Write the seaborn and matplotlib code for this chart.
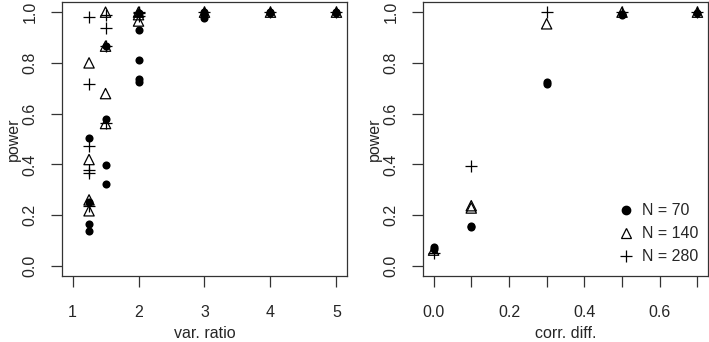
import pandas as pd
import seaborn as sns
import matplotlib.pyplot as plt
from matplotlib.lines import Line2D

# left panel: power against variance ratio
vr_x_70 = [1.25, 1.25, 1.25, 1.25, 1.5, 1.5, 1.5, 1.5, 2, 2, 2, 2, 2, 3, 3, 3, 4, 4, 5, 5]
vr_y_70 = [0.505, 0.25, 0.165, 0.137, 0.866, 0.577, 0.398, 0.322,
           0.995, 0.929, 0.813, 0.738, 0.725, 1.0, 0.99, 0.976, 1.0, 0.995, 1.0, 0.998]
vr_x_140 = [1.25, 1.25, 1.25, 1.25, 1.5, 1.5, 1.5, 1.5, 2, 2, 2, 3, 4, 5]
vr_y_140 = [0.80, 0.419, 0.26, 0.217, 1.0, 0.866, 0.679, 0.561, 1.0, 0.99, 0.965, 1.0, 1.0, 1.0]
vr_x_280 = [1.25, 1.25, 1.25, 1.25, 1.25, 1.25, 1.5, 1.5, 1.5, 1.5, 2, 2, 2, 3, 4, 5]
vr_y_280 = [0.98, 0.716, 0.474, 0.379, 0.366, 0.235, 0.99, 0.939, 0.866, 0.565,
            1.0, 0.995, 0.985, 1.0, 1.0, 1.0]

# right panel: power against correlation difference
cd_x_70 = [0.0, 0.0, 0.1, 0.1, 0.3, 0.3, 0.5, 0.5, 0.7]
cd_y_70 = [0.075, 0.068, 0.158, 0.152, 0.726, 0.716, 0.993, 0.99, 0.998]
cd_x_140 = [0.0, 0.1, 0.1, 0.3, 0.5, 0.7]
cd_y_140 = [0.062, 0.237, 0.228, 0.954, 1.0, 1.0]
cd_x_280 = [0.0, 0.1, 0.3, 0.5, 0.7]
cd_y_280 = [0.052, 0.395, 1.0, 1.0, 1.0]

n_labels = ['N = 70', 'N = 140', 'N = 280']

rows = []
for panel, xs, ys in [('vr', [vr_x_70, vr_x_140, vr_x_280], [vr_y_70, vr_y_140, vr_y_280]),
                      ('cd', [cd_x_70, cd_x_140, cd_x_280], [cd_y_70, cd_y_140, cd_y_280])]:
    for lab, xv, yv in zip(n_labels, xs, ys):
        for a, b in zip(xv, yv):
            rows.append((panel, lab, a, b))
df = pd.DataFrame(rows, columns=['Panel', 'N', 'x', 'power'])

sns.set_style('ticks')
plt.rcParams['font.family'] = ['Liberation Sans', 'DejaVu Sans']
plt.rcParams['axes.linewidth'] = 0.9
plt.rcParams['axes.edgecolor'] = '#333333'

fig = plt.figure(figsize=(7.09, 3.42), dpi=100)
ax1 = fig.add_axes([62 / 709, 66 / 342, 285 / 709, 274 / 342])
ax2 = fig.add_axes([423 / 709, 66 / 342, 285 / 709, 274 / 342])

styles = {
    'N = 70': dict(marker='o', s=34, color='black', edgecolor='black', linewidth=0),
    'N = 140': dict(marker='^', s=55, facecolor='none', edgecolor='black', linewidth=0.9),
    'N = 280': dict(marker='+', s=80, color='black', linewidth=0.9),
}

for ax, panel in [(ax1, 'vr'), (ax2, 'cd')]:
    sub = df[df['Panel'] == panel]
    for lab in n_labels:
        d = sub[sub['N'] == lab]
        sns.scatterplot(data=d, x='x', y='power', ax=ax, legend=False, **styles[lab])
    ax.set_ylim(-0.04, 1.04)
    ax.set_yticks([0.0, 0.2, 0.4, 0.6, 0.8, 1.0])
    ax.set_yticklabels(['0.0', '0.2', '0.4', '0.6', '0.8', '1.0'], rotation=90, va='center')
    ax.set_ylabel('power', fontsize=11.5, labelpad=1)
    ax.tick_params(direction='out', length=8, width=0.9, color='#333333',
                   labelsize=11.5, pad=9.5)
    ax.tick_params(axis='x', pad=13)
    for sp in ax.spines.values():
        sp.set_visible(True)

ax1.set_xlim(0.84, 5.16)
ax1.set_xticks([1, 2, 3, 4, 5])
ax1.set_xlabel('var. ratio', fontsize=11.5, labelpad=4)

ax2.set_xlim(-0.028, 0.728)
ax2.set_xticks([0.0, 0.1, 0.2, 0.3, 0.4, 0.5, 0.6, 0.7])
ax2.set_xticklabels(['0.0', '', '0.2', '', '0.4', '', '0.6', ''])
ax2.set_xlabel('corr. diff.', fontsize=11.5, labelpad=4)

handles = [
    Line2D([], [], linestyle='none', marker='o', markersize=6, color='black'),
    Line2D([], [], linestyle='none', marker='^', markersize=7.5, markerfacecolor='none',
           markeredgecolor='black', markeredgewidth=0.9),
    Line2D([], [], linestyle='none', marker='+', markersize=9, color='black', markeredgewidth=0.9),
]
ax2.legend(handles, n_labels, loc='lower right', bbox_to_anchor=(0.99, 0.02), frameon=False,
           fontsize=11.5, handlelength=1.0, handletextpad=0.5, labelspacing=0.5,
           borderaxespad=0)

fig.savefig('out.png', dpi=100)
